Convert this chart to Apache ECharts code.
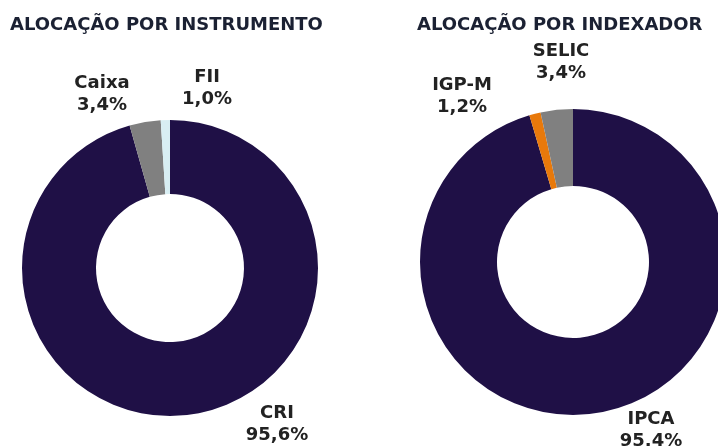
<!DOCTYPE html>
<html lang="pt-BR">
<head>
  <meta charset="utf-8">
  <title>Alocação</title>
  <script src="https://cdn.jsdelivr.net/npm/echarts@6/dist/echarts.min.js"></script>
</head>
<body style="margin: 0; background: #fff;">
  <div id="container" style="width: 718px; height: 446px;"></div>
  <script type="text/javascript">
    // dados
    const instrumentos = ['CRI', 'Caixa', 'FII'];
    const valoresInstr = [95.6, 3.4, 1.0];
    const coresInstr = ['#1f1046', '#808080', '#d8eef3'];

    const indexadores = ['IPCA', 'IGP-M', 'SELIC'];
    const valoresIdx = [95.4, 1.2, 3.4];
    const coresIdx = ['#1f1046', '#e8790b', '#808080'];

    // posição dos rótulos (centro do bloco de texto)
    const rotulosInstr = [[277, 424], [102, 94], [207, 88]];
    const rotulosIdx = [[651, 430], [462, 96], [561, 62]];

    const fonte = '"DejaVu Sans", Verdana, sans-serif';

    function pct(v) {
      return v.toFixed(1).replace('.', ',') + '%';
    }

    function montarSerie(nomes, valores, cores, rotulos, centro, raio) {
      return {
        type: 'pie',
        center: centro,
        radius: raio,
        startAngle: 90,
        clockwise: true,
        silent: true,
        data: nomes.map((n, i) => ({
          name: n,
          value: valores[i],
          itemStyle: { color: cores[i] }
        })),
        label: {
          show: true,
          position: 'outside',
          overflow: 'none',
          width: 200,
          formatter: p => p.name + '\n' + pct(p.value),
          fontFamily: fonte,
          fontWeight: 'bold',
          fontSize: 18,
          lineHeight: 22,
          color: '#222222'
        },
        labelLine: { show: false },
        labelLayout: function (params) {
          const pos = rotulos[params.dataIndex];
          return { x: pos[0], y: pos[1], align: 'center', verticalAlign: 'middle' };
        }
      };
    }

    const myChart = echarts.init(document.getElementById('container'));

    const estiloTitulo = { fontFamily: fonte, fontWeight: 'bold', fontSize: 18, color: '#1b2133' };

    const option = {
      animation: false,
      title: [
        { text: 'ALOCAÇÃO POR INSTRUMENTO', left: 10, top: 16, padding: 0, textStyle: estiloTitulo },
        { text: 'ALOCAÇÃO POR INDEXADOR', left: 417, top: 16, padding: 0, textStyle: estiloTitulo }
      ],
      series: [
        montarSerie(instrumentos, valoresInstr, coresInstr, rotulosInstr, [170, 268], [74, 148]),
        montarSerie(indexadores, valoresIdx, coresIdx, rotulosIdx, [573, 262], [76, 153])
      ]
    };

    myChart.setOption(option);
  </script>
</body>
</html>
